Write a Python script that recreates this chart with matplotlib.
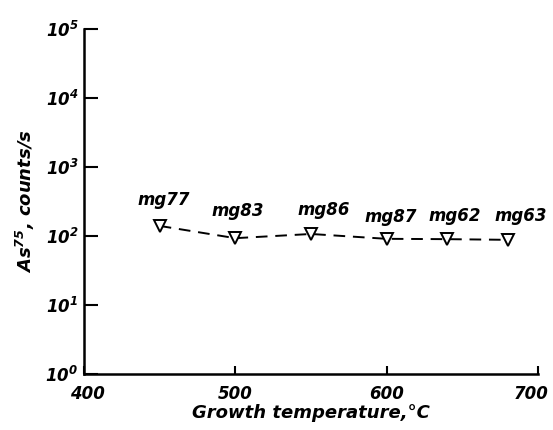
import math

import matplotlib
matplotlib.use("Agg")
import matplotlib.pyplot as plt
import matplotlib.transforms as mtransforms
from matplotlib.ticker import FixedLocator, FuncFormatter, NullLocator

# data
temps = [450, 500, 550, 600, 640, 680]
counts = [140, 93, 107, 91, 90, 88]
samples = ["mg77", "mg83", "mg86", "mg87", "mg62", "mg63"]

# label offsets from each point (pixels)
label_dx = [4, 2, 13, 4, 8, 13]
label_dy = [26, 27, 24, 22, 23, 24]

plt.rcParams["font.family"] = "DejaVu Sans"
plt.rcParams["mathtext.fontset"] = "custom"
plt.rcParams["mathtext.rm"] = "DejaVu Sans:italic:bold"
plt.rcParams["mathtext.it"] = "DejaVu Sans:italic:bold"
plt.rcParams["mathtext.bf"] = "DejaVu Sans:italic:bold"

fig = plt.figure(figsize=(5.53, 4.30), dpi=100)
ax = fig.add_axes([84 / 553, 1 - 374 / 430, (538 - 84) / 553, (374 - 29) / 430])

ax.plot(temps, counts, color="black", linestyle=(0, (6, 4)), linewidth=1.4,
        marker="v", markersize=8, markerfacecolor="white",
        markeredgecolor="black", markeredgewidth=1.4)

for t, c, s, dx, dy in zip(temps, counts, samples, label_dx, label_dy):
    ax.annotate(s, (t, c), xytext=(dx, dy), textcoords="offset pixels",
                ha="center", va="center", fontsize=12,
                fontweight="bold", fontstyle="italic")

ax.set_yscale("log")
ax.set_ylim(1, 1e5)
ax.set_xlim(400, 700)

ax.xaxis.set_major_locator(FixedLocator([400, 500, 600, 700]))
ax.yaxis.set_major_locator(FixedLocator([1, 10, 100, 1e3, 1e4, 1e5]))
ax.yaxis.set_minor_locator(NullLocator())
ax.yaxis.set_major_formatter(
    FuncFormatter(lambda v, p: r"$\mathrm{10^{%d}}$" % round(math.log10(v))))

ax.tick_params(axis="x", direction="in", length=6, width=1.5, pad=8, labelsize=12)
ax.tick_params(axis="y", direction="in", length=10, width=1.5, pad=4, labelsize=12)

for lab in ax.get_xticklabels():
    lab.set_fontweight("bold")
    lab.set_fontstyle("italic")

# nudge the end labels like the original
xlabs = ax.get_xticklabels()
xlabs[0].set_transform(xlabs[0].get_transform()
                       + mtransforms.ScaledTranslation(3 / 100, 0, fig.dpi_scale_trans))
xlabs[-1].set_transform(xlabs[-1].get_transform()
                        + mtransforms.ScaledTranslation(-7 / 100, 0, fig.dpi_scale_trans))

for side in ["top", "right"]:
    ax.spines[side].set_visible(False)
for side in ["left", "bottom"]:
    ax.spines[side].set_linewidth(1.8)

ax.set_xlabel("Growth temperature,°C", fontsize=13, fontstyle="italic",
              fontweight="bold", labelpad=1)
ax.set_ylabel(r"As$^{75}$, counts/s", fontsize=13, fontweight="bold",
              fontstyle="italic", labelpad=6)

fig.savefig("out.png", dpi=100)
